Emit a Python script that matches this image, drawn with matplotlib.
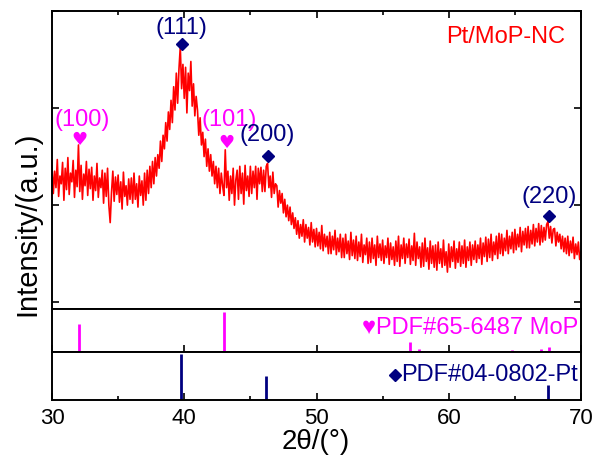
import numpy as np
import matplotlib
matplotlib.use("Agg")
import matplotlib.pyplot as plt
from matplotlib.ticker import MultipleLocator

plt.rcParams["font.family"] = ["Liberation Sans", "DejaVu Sans"]

# XRD scan of Pt/MoP-NC, 30-70 deg, 0.1 deg step (counts)
scan_start, scan_step = 30.0, 0.1
counts = [
    340, 312, 335, 318, 347, 309, 330, 322, 344, 305,   # 30
    338, 316, 349, 311, 333, 324, 346, 308, 336, 319,   # 31
    362, 314, 341, 306, 332, 320, 345, 310, 337, 317,   # 32
    339, 305, 330, 315, 343, 308, 328, 318, 336, 302,   # 33
    333, 309, 338, 300, 282, 313, 335, 304, 329, 311,   # 34
    331, 303, 324, 296, 334, 309, 320, 300, 327, 306,   # 35
    328, 302, 333, 306, 322, 298, 330, 310, 325, 300,   # 36
    333, 305, 336, 312, 340, 318, 345, 322, 349, 330,   # 37
    352, 338, 366, 345, 372, 358, 385, 366, 396, 378,   # 38
    408, 385, 422, 398, 436, 405, 440, 463, 420, 445,   # 39
    410, 442, 395, 436, 418, 448, 402, 425, 392, 412,   # 40
    398, 372, 390, 362, 375, 350, 368, 340, 358, 335,   # 41
    352, 330, 345, 322, 340, 318, 338, 312, 333, 320,   # 42
    310, 357, 318, 335, 305, 330, 312, 338, 300, 326,   # 43
    336, 306, 340, 312, 333, 301, 341, 315, 330, 309,   # 44
    340, 312, 335, 318, 340, 306, 338, 322, 339, 314,   # 45
    336, 314, 340, 343, 318, 330, 308, 334, 312, 322,   # 46
    320, 298, 315, 302, 312, 292, 306, 288, 300, 284,   # 47
    298, 280, 292, 276, 287, 270, 284, 266, 280, 268,   # 48
    285, 262, 280, 266, 277, 259, 282, 262, 275, 257,   # 49
    276, 258, 272, 255, 279, 253, 270, 257, 268, 250,   # 50
    272, 250, 268, 254, 274, 249, 266, 252, 270, 246,   # 51
    266, 246, 270, 250, 263, 244, 272, 248, 264, 245,   # 52
    268, 243, 262, 247, 270, 241, 259, 249, 266, 240,   # 53
    262, 241, 266, 245, 259, 238, 268, 246, 260, 243,   # 54
    264, 240, 258, 246, 266, 239, 261, 244, 257, 238,   # 55
    263, 242, 268, 237, 259, 245, 266, 240, 260, 246,   # 56
    265, 239, 258, 243, 271, 238, 262, 245, 257, 236,   # 57
    261, 237, 266, 242, 256, 234, 263, 240, 258, 236,   # 58
    259, 233, 262, 240, 255, 236, 264, 238, 252, 231,   # 59
    260, 236, 257, 242, 263, 235, 255, 241, 262, 237,   # 60
    258, 240, 264, 236, 257, 243, 262, 238, 259, 244,   # 61
    263, 241, 259, 245, 266, 239, 261, 247, 267, 242,   # 62
    265, 246, 270, 243, 262, 249, 268, 245, 271, 250,   # 63
    270, 248, 266, 253, 274, 250, 268, 255, 272, 251,   # 64
    275, 254, 270, 257, 277, 252, 273, 259, 276, 256,   # 65
    278, 256, 274, 260, 280, 258, 276, 262, 281, 259,   # 66
    279, 262, 277, 264, 280, 283, 266, 278, 261, 275,   # 67
    276, 258, 272, 262, 270, 255, 268, 252, 266, 250,   # 68
    268, 248, 263, 251, 267, 245, 260, 249, 262, 244,   # 69
    252,                                                # 70
]

# indexed reflections
mop_hkl = ["(100)", "(101)"]
mop_peak = [32.05, 43.2]
mop_mark_y = [367, 364]
mop_label_y = [388, 388]

pt_hkl = ["(111)", "(200)", "(220)"]
pt_peak = [39.8, 46.3, 67.6]
pt_mark_y = [466, 351, 289]
pt_label_y = [482, 372, 308]

# reference cards (relative intensity)
mop_card_pos = [32.05, 43.0, 57.1, 57.75, 64.8, 67.0, 67.6]
mop_card_int = [70, 100, 24, 8, 6, 8, 12]
pt_card_pos = [39.75, 46.2, 67.5]
pt_card_int = [100, 52, 32]

RED = "#FF0000"
MAGENTA = "#FF00FF"
NAVY = "#000080"

two_theta = scan_start + scan_step * np.arange(len(counts))

fig = plt.figure(figsize=(5.98, 4.59), dpi=100)
left, width = 52 / 598, 529 / 598
ax = fig.add_axes([left, 1 - 309 / 459, width, 298 / 459])
ax_mop = fig.add_axes([left, 1 - 352 / 459, width, 43 / 459], sharex=ax)
ax_pt = fig.add_axes([left, 1 - 400 / 459, width, 48 / 459], sharex=ax)

for a in (ax, ax_mop, ax_pt):
    for s in a.spines.values():
        s.set_linewidth(1.4)

# ---- measured pattern ----
ax.plot(two_theta, counts, color=RED, lw=1.2)
ax.set_xlim(30, 70)
ax.set_ylim(193, 500)
ax.yaxis.set_major_locator(MultipleLocator(100))
ax.xaxis.set_major_locator(MultipleLocator(10))
ax.xaxis.set_minor_locator(MultipleLocator(5))
ax.tick_params(axis="y", which="both", direction="in", left=True, right=True,
               labelleft=False, length=5, width=1.2)
ax.tick_params(axis="x", which="both", direction="in", top=True, bottom=False,
               labelbottom=False, width=1.2)
ax.tick_params(axis="x", which="major", length=5)
ax.tick_params(axis="x", which="minor", length=3)

for lab, x, my, ly in zip(mop_hkl, mop_peak, mop_mark_y, mop_label_y):
    ax.text(x, my, "♥", color=MAGENTA, fontsize=13, ha="center", va="center",
            family=["DejaVu Sans"])
    ax.text(x + 0.2, ly, lab, color=MAGENTA, fontsize=17, ha="center", va="center")
for lab, x, my, ly in zip(pt_hkl, pt_peak, pt_mark_y, pt_label_y):
    ax.plot(x, my, marker="D", ms=6, color=NAVY, ls="none")
    ax.text(x, ly, lab, color=NAVY, fontsize=17, ha="center", va="center")

ax.text(0.97, 0.913, "Pt/MoP-NC", color=RED, fontsize=17, ha="right", va="center",
        transform=ax.transAxes)

# ---- MoP card ----
ax_mop.vlines(mop_card_pos, 0, mop_card_int, color=MAGENTA, lw=2)
ax_mop.set_ylim(0, 107)
ax_mop.set_yticks([])
ax_mop.tick_params(axis="x", which="major", direction="in", length=5, width=1.2,
                   labelbottom=False)
ax_mop.tick_params(axis="x", which="minor", bottom=False)
ax_mop.text(0.994, 0.56, "♥PDF#65-6487 MoP", color=MAGENTA, fontsize=17,
            ha="right", va="center", transform=ax_mop.transAxes)

# ---- Pt card ----
ax_pt.vlines(pt_card_pos, 0, pt_card_int, color=NAVY, lw=2)
ax_pt.set_ylim(0, 104)
ax_pt.set_yticks([])
ax_pt.tick_params(axis="x", which="both", direction="in", width=1.2, labelsize=16, pad=6)
ax_pt.tick_params(axis="x", which="major", length=5)
ax_pt.tick_params(axis="x", which="minor", length=3)
pt_txt = ax_pt.text(0.994, 0.52, "PDF#04-0802-Pt", color=NAVY, fontsize=17,
                    ha="right", va="center", transform=ax_pt.transAxes)

# small diamond just left of the card name
fig.canvas.draw()
bb = pt_txt.get_window_extent()
inv = ax_pt.transAxes.inverted()
dx, dy = inv.transform((bb.x0 - 6, (bb.y0 + bb.y1) / 2))
ax_pt.plot(dx, dy, marker="D", ms=6, color=NAVY, transform=ax_pt.transAxes,
           clip_on=False)

fig.text(27 / 598, 1 - 224 / 459, "Intensity/(a.u.)", rotation=90, fontsize=21,
         ha="center", va="center")
fig.text(316 / 598, 1 - 442 / 459, "2θ/(°)", fontsize=20, ha="center", va="center")

fig.savefig("out.png", dpi=100)
